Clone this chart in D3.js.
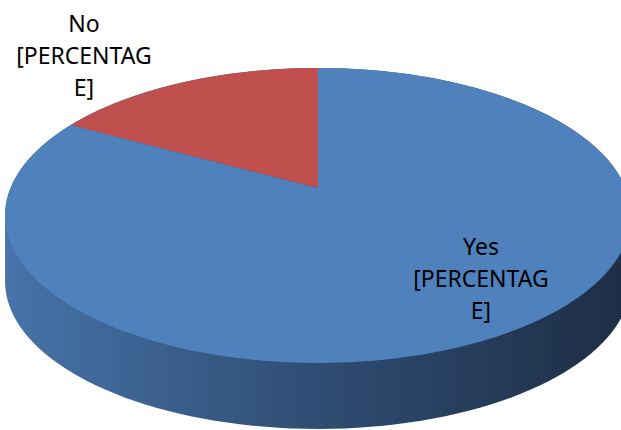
<!DOCTYPE html>
<html>
<head>
<meta charset="utf-8">
<script src="https://cdn.jsdelivr.net/npm/d3@7"></script>
<style>
  body { margin: 0; background: #fff; }
  text { font-family: "Noto Sans", "Open Sans", sans-serif; }
</style>
</head>
<body>
<div id="chart"></div>
<script>
// Pie data
var categories = ["Yes", "No"];
var values = [83, 17];
var colors = ["#4f81bd", "#c0504d"];
var labelLines = [["Yes", "[PERCENTAG", "E]"], ["No", "[PERCENTAG", "E]"]];

var svgWidth = 621;
var svgHeight = 430;

// projected (tilted) pie geometry
var cx = 318, cy = 188;
var A = 307.5, B = 142.4, k = -0.186;
var depth = 66;

var svg = d3.select("#chart")
    .append("svg")
    .attr("width", svgWidth)
    .attr("height", svgHeight);

// angle clockwise from 12 o'clock, r = radius fraction, dz = drop for the base
function proj(angle, r, dz) {
    var u = r * Math.sin(angle);
    var v = -r * Math.cos(angle);
    var w = 1 + k * v;
    return [cx + A * u / w, cy + dz + B * v / w];
}

// side gradient
var grad = svg.append("defs").append("linearGradient")
    .attr("id", "sideGrad")
    .attr("gradientUnits", "userSpaceOnUse")
    .attr("x1", 5).attr("y1", 0)
    .attr("x2", 621).attr("y2", 0);
grad.append("stop").attr("offset", "0").attr("stop-color", "#4773a9");
grad.append("stop").attr("offset", "0.5").attr("stop-color", "#2f4d73");
grad.append("stop").attr("offset", "1").attr("stop-color", "#1e2e46");

// side of the cylinder: hull of top and bottom rims
var rim = [];
d3.range(0, 361, 2).forEach(function(deg) {
    var a = deg * Math.PI / 180;
    rim.push(proj(a, 1, 0));
    rim.push(proj(a, 1, depth));
});
svg.append("path")
    .attr("d", "M" + d3.polygonHull(rim).join("L") + "Z")
    .attr("fill", "url(#sideGrad)");

// top face slices
var pie = d3.pie().sort(null);
var arcs = pie(values);

svg.selectAll("path.slice")
    .data(arcs)
    .enter()
    .append("path")
    .attr("class", "slice")
    .attr("fill", (d, i) => colors[i])
    .attr("d", function(d) {
        var pts = [proj(0, 0, 0)];
        var n = Math.max(2, Math.ceil((d.endAngle - d.startAngle) / 0.01));
        for (var j = 0; j <= n; j++) {
            pts.push(proj(d.startAngle + (d.endAngle - d.startAngle) * j / n, 1, 0));
        }
        return "M" + pts.join("L") + "Z";
    });

// labels
var labelPos = [[481, 255], [84, 32]];
var labels = svg.selectAll("text.lbl")
    .data(arcs)
    .enter()
    .append("text")
    .attr("class", "lbl")
    .attr("text-anchor", "middle")
    .attr("font-size", "23px")
    .attr("fill", "#000");

labels.each(function(d, i) {
    var t = d3.select(this);
    labelLines[i].forEach(function(line, j) {
        t.append("tspan")
            .attr("x", labelPos[i][0])
            .attr("y", labelPos[i][1] + j * 32)
            .text(line);
    });
});
</script>
</body>
</html>
